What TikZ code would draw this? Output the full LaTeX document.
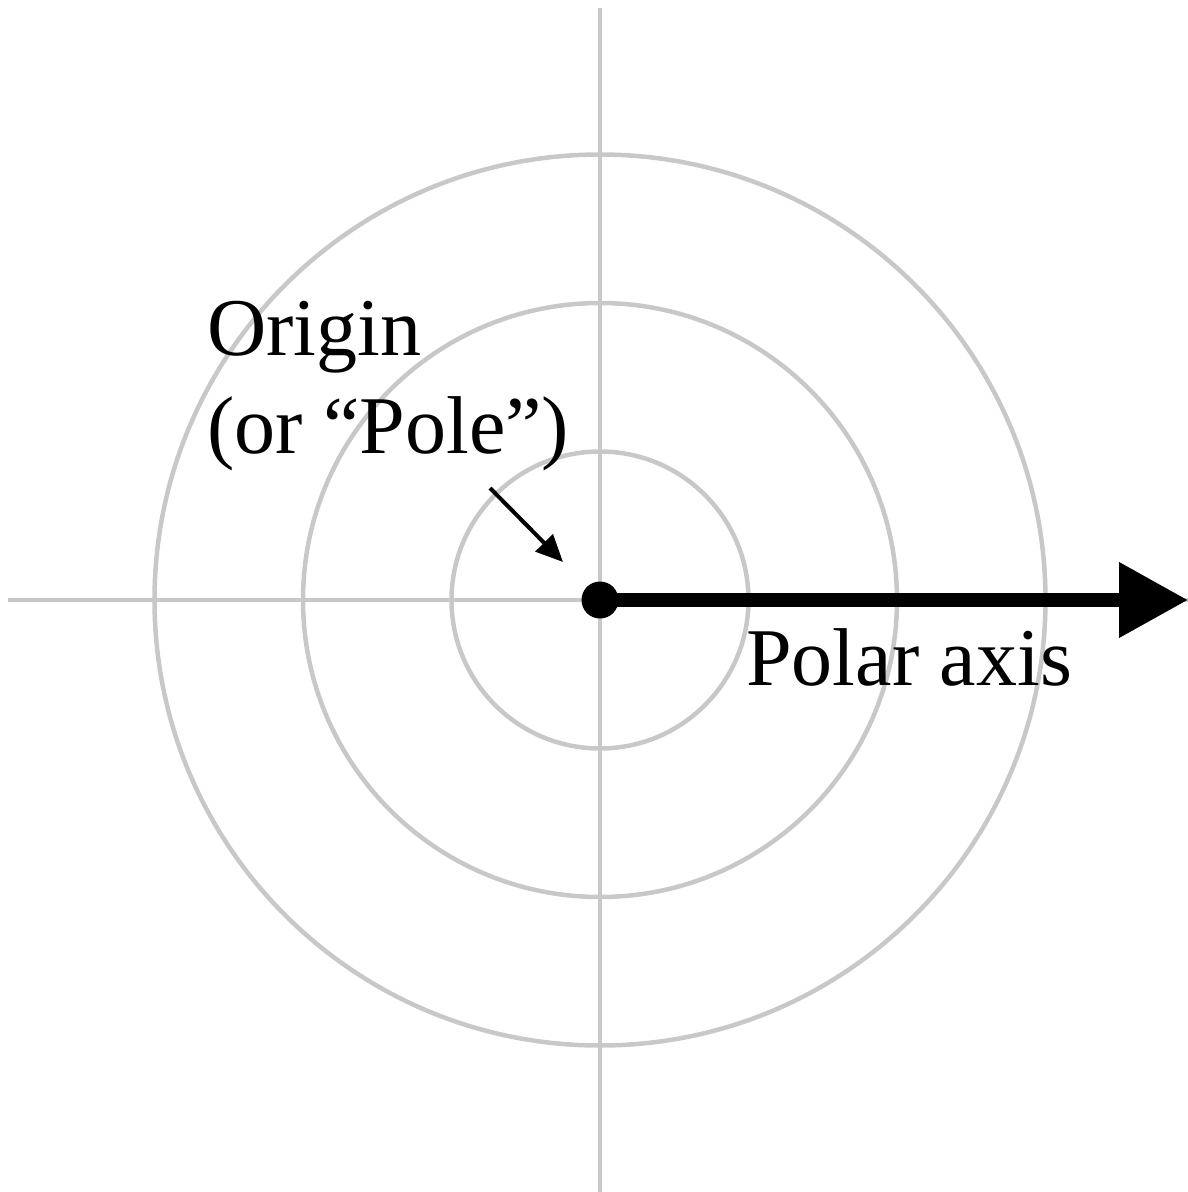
\documentclass[tikz,border=0pt]{standalone}
\usepackage{fontspec}
\setmainfont{Liberation Serif}
\usetikzlibrary{arrows.meta}
\definecolor{gridgray}{RGB}{200,200,200}
\begin{document}
\begin{tikzpicture}[x=1pt,y=-1pt,
  gridline/.style={draw=gridgray,line width=4.5pt},
  label/.style={inner sep=0pt,anchor=base west,font=\fontsize{82}{98}\selectfont},
  axisarrow/.style={line width=14pt,-{Triangle[length=69pt,width=72pt]}},
  pointer/.style={line width=4pt,-{Triangle[length=27pt,width=24pt]}}]
\useasboundingbox (0,0) rectangle (1188,1192);
\coordinate (c) at (600,600);
\coordinate (hl) at (8,600);
\coordinate (hr) at (1188,600);
\coordinate (vt) at (600,8);
\coordinate (vb) at (600,1192);
\draw[gridline] (hl) -- (hr);
\draw[gridline] (vt) -- (vb);
\foreach \r in {148.5,297,445.5} \draw[gridline] (c) circle[radius=\r];
\coordinate (axend) at (1188,600);
\draw[axisarrow] (c) -- (axend);
\node[circle,fill=black,minimum size=37pt,inner sep=0pt] (pole) at (c) {};
\node[label] (origin) at (207,355) {Origin};
\node[label] (orpole) at (207,453) {(or “Pole”)};
\node[label] (polar) at (746,685) {Polar axis};
\coordinate (ps) at (490,488);
\coordinate (pe) at (563,562);
\draw[pointer] (ps) -- (pe);
\end{tikzpicture}
\end{document}
